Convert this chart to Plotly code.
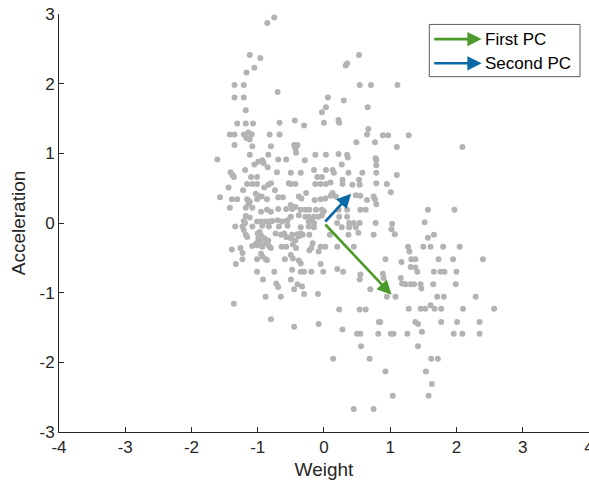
import plotly.graph_objects as go

# Standardized Weight (x) and Acceleration (y) values
weight_z = [
    -0.855, -0.75, -1.12, -0.96, -1.05, -1.17, -1.35, -1.21, -1.35, -1.21, -0.70, -1.18, 0.06, 0.03, -0.03,
    -1.31, -1.18, -1.07, -0.67, -0.44, -0.30, 0.0,
    0.53, 0.35, 0.33, 0.54, 0.71, 1.11, 0.30, 0.66, 0.22, 0.23, 0.67, 0.65, 0.89, 0.97, 1.28, 0.49, 0.77,
    1.10, 2.09, 0.22, 0.35, 0.36, 0.78,
    -1.42, -1.35, -1.21, -1.14, -1.09, -1.17, -1.12, -0.82, -0.67, -1.35, -1.08, -0.80, -1.61, -1.12, -0.84,
    -0.69, -0.57, -1.05, -0.99, -0.93, -0.91, -1.19, -0.85, -0.71, -1.41, -1.38, -1.36, -1.10, -1.01, -0.53,
    -1.16, -1.08, -1.01, -0.90, -0.84, -0.80, -1.44, -1.22, -0.74, -1.57, -1.39, -1.31, -1.16, -1.14, -1.12,
    -1.03, -0.99, -0.94, -1.01, -0.86, -0.69, -0.62, -1.42, -1.18, -1.08, -0.95, -0.86, -0.80, -0.69, -0.57,
    -1.18, -1.12, -1.21, -1.19, -1.01, -0.95, -0.88, -0.83, -0.78, -0.70, -0.63, -0.55, -1.34, -1.23, -1.08,
    -0.93, -0.83, -0.68, -0.55,
    -0.45, -0.40, -0.43, -0.42, -0.29, -0.13, 0.03, 0.27, 0.79, 0.79, -0.50, -0.35, -0.15, 0.03, 0.13, 0.15,
    0.37, 0.58, 0.79, -0.10, -0.03, -0.43, -0.50, -0.13, -0.05, 0.03, 0.10, 0.28, 0.28, 0.43, 0.53, 0.54,
    0.79, -0.27, 0.13, 0.10, -0.38, -0.34, -0.14, -0.05, 0.02, 0.18, 0.48, 0.55, 0.65, 0.77, -0.50, -0.43,
    -0.48, -0.35, -0.28, -0.22, -0.12, -0.03, 0.0, 0.22, 0.35, 0.55, 0.63, -0.50, -0.38, -0.28, -0.23, -0.15,
    -0.08, -0.03, -0.23, -0.19, -0.15, 0.23, 0.35, 0.20, 0.38, 0.45, 0.54, 0.78, -0.35, -0.23, -0.15, 0.27,
    0.38, 0.48,
    0.95, 1.01, 0.75, 0.79, 1.10,
    -1.21, -1.18, -1.16, -1.0, -0.97, -0.95, -0.99, -0.97, -1.02, -0.90, -0.88, -0.84, -0.73, -0.65, -0.60,
    -0.57, -1.39, -1.26, -1.23, -1.23, -1.33, -1.08, -1.01, -0.93, -0.83, -0.80, -0.95, -0.93, -1.01, -0.88,
    -0.86, -0.64, -0.57, -0.59, -1.01, -0.75, -0.92, -0.72, -0.69, -0.88, -0.65, -1.36, -0.80,
    -0.48, -0.40, -0.35, -0.32, -0.38, -0.22, 0.09, 0.37, 0.52, 0.75, -0.50, -0.43, -0.47, -0.42, -0.17,
    -0.19, -0.22, -0.05, 0.02, -0.08, 0.20, 0.45, -0.50, -0.47, -0.38, -0.35, -0.05, -0.48, -0.35, -0.30,
    -0.19, -0.01, 0.20, 0.29, 0.55, 0.54, -0.50, -0.40, -0.33, -0.45, -0.30, -0.09, 0.70, 0.23, 0.54, 0.63,
    -0.45, -0.08, 0.28, 0.50, 0.55,
    1.57, 1.97, 1.52, 1.03, 1.02, 1.07, 1.57, 1.66, 1.27, 1.29, 1.50, 1.61, 1.80, 2.05, 0.93, 1.17, 1.32,
    1.38, 1.31, 1.38, 1.41, 1.73, 1.95, 2.40, 1.66, 1.76, 1.82, 2.0, 0.89, 0.90, 1.16, 1.18, 1.23, 1.31,
    1.36, 1.46, 1.47, 1.65, 1.99, 0.95, 1.08, 1.71, 1.81, 2.29, 1.28, 1.46, 1.53, 1.61, 1.67, 1.77, 2.10,
    2.57, 0.83, 0.85, 1.38, 1.42, 1.77, 2.01, 2.35, 0.82, 1.01, 1.05, 1.26, 1.48, 1.96, 2.09, 2.35, 0.56,
    1.42, 0.14, 0.69, 1.62, 1.72, 0.93, 1.54, 1.63, 1.04, 1.58, 0.45, 0.75,
]
accel_z = [
    2.87, 2.95, 2.41, 2.37, 2.23, 2.16, 1.98, 1.98, 1.80, 1.80, 1.88, 1.62, 1.80, 1.66, 1.59,
    1.43, 1.43, 1.43, 1.44, 1.47, 1.40, 1.44,
    2.41, 2.29, 2.26, 1.98, 1.98, 1.98, 1.76, 1.66, 1.48, 1.44, 1.35, 1.27, 1.26, 1.26, 1.26, 1.16, 1.16,
    1.09, 1.09, 0.99, 0.98, 0.94, 0.93,
    1.27, 1.27, 1.27, 1.30, 1.27, 1.22, 1.20, 1.27, 1.27, 1.12, 1.10, 1.10, 0.91, 0.98, 0.98,
    0.91, 0.91, 0.84, 0.88, 0.90, 0.86, 0.76, 0.80, 0.73, 0.73, 0.69, 0.66, 0.66, 0.66, 0.57,
    0.56, 0.56, 0.56, 0.51, 0.55, 0.57, 0.51, 0.47, 0.47, 0.37, 0.34, 0.34, 0.34, 0.28, 0.31,
    0.42, 0.39, 0.38, 0.34, 0.34, 0.37, 0.37, 0.22, 0.22, 0.22, 0.16, 0.19, 0.16, 0.20, 0.20,
    0.10, 0.08, 0.03, 0.0, 0.02, 0.02, 0.02, 0.02, 0.03, 0.04, 0.02, 0.04, -0.05, -0.05, -0.05,
    -0.04, -0.05, -0.05, -0.04,
    1.12, 1.12, 1.07, 1.01, 0.90, 0.98, 0.98, 0.84, 0.90, 0.83, 0.72, 0.72, 0.76, 0.76, 0.76, 0.72,
    0.72, 0.72, 0.72, 0.66, 0.66, 0.56, 0.56, 0.56, 0.56, 0.56, 0.58, 0.62, 0.56, 0.55, 0.62, 0.55,
    0.57, 0.43, 0.43, 0.39, 0.38, 0.35, 0.33, 0.34, 0.35, 0.38, 0.40, 0.39, 0.33, 0.34, 0.26, 0.23,
    0.20, 0.19, 0.19, 0.19, 0.19, 0.19, 0.17, 0.19, 0.19, 0.19, 0.19, 0.09, 0.11, 0.09, 0.09, 0.09,
    0.09, 0.11, 0.02, 0.04, 0.0, 0.09, 0.09, 0.0, 0.0, 0.0, 0.0, 0.0, -0.06, -0.05, -0.06, -0.06,
    -0.06, -0.06,
    0.56, 0.44, 0.38, 0.27, 0.69,
    -0.10, -0.17, -0.20, -0.15, -0.13, -0.18, -0.22, -0.27, -0.29, -0.22, -0.29, -0.25, -0.15, -0.17, -0.15,
    -0.20, -0.38, -0.36, -0.43, -0.52, -0.59, -0.33, -0.32, -0.34, -0.33, -0.36, -0.44, -0.48, -0.52, -0.52,
    -0.53, -0.34, -0.34, -0.52, -0.70, -0.70, -0.81, -0.87, -0.92, -1.06, -1.06, -1.16, -1.38,
    -0.17, -0.16, -0.15, -0.17, -0.19, -0.17, -0.17, -0.17, -0.14, -0.17, -0.22, -0.25, -0.31, -0.36, -0.29,
    -0.36, -0.39, -0.34, -0.34, -0.41, -0.34, -0.34, -0.46, -0.51, -0.54, -0.58, -0.59, -0.67, -0.70, -0.70,
    -0.70, -0.70, -0.66, -0.70, -0.74, -0.81, -0.81, -0.88, -0.91, -0.95, -1.02, -1.02, -0.95, -1.24, -1.24, -1.24,
    -1.49, -1.45, -1.53, -1.59, -1.59,
    0.19, 0.19, 0.01, -0.01, -0.09, -0.16, -0.21, -0.17, -0.34, -0.41, -0.34, -0.34, -0.34, -0.34, -0.52, -0.56, -0.52,
    -0.52, -0.63, -0.64, -0.70, -0.52, -0.52, -0.52, -0.70, -0.70, -0.70, -0.70, -0.73, -0.79, -0.79, -0.87, -0.88, -0.88,
    -0.88, -0.88, -0.94, -0.88, -0.88, -1.06, -1.06, -1.06, -1.06, -1.06, -1.23, -1.23, -1.23, -1.18, -1.23, -1.23, -1.23,
    -1.23, -1.42, -1.42, -1.42, -1.45, -1.42, -1.42, -1.42, -1.59, -1.59, -1.59, -1.59, -1.56, -1.59, -1.59, -1.59, -1.77,
    -1.77, -1.95, -1.95, -1.95, -1.95, -2.13, -2.13, -2.31, -2.48, -2.48, -2.67, -2.67,
]

# Principal component arrows (end points, drawn from the origin)
pc_names = ["First PC", "Second PC"]
pc_x = [1.02, 0.41]
pc_y = [-1.03, 0.42]
pc_colors = ["#4c9a2a", "#0a6aa6"]

x_ticks = [-4, -3, -2, -1, 0, 1, 2, 3, 4]
y_ticks = [-3, -2, -1, 0, 1, 2, 3]

FONT = "Liberation Sans, Arial, Helvetica, sans-serif"
AX = "#262626"

fig = go.Figure()
fig.add_trace(go.Scatter(
    x=weight_z, y=accel_z, mode="markers",
    marker=dict(color="#b3b3b3", size=6, line=dict(width=0)),
    showlegend=False, hoverinfo="skip",
))

for name, ex, ey, col in zip(pc_names, pc_x, pc_y, pc_colors):
    fig.add_annotation(
        x=ex, y=ey, ax=0, ay=0, xref="x", yref="y", axref="x", ayref="y",
        text="", showarrow=True, arrowhead=2, arrowsize=1.1, arrowwidth=2.6,
        arrowcolor=col, standoff=0,
    )

# Legend box drawn in paper coordinates
fig.add_shape(type="rect", xref="paper", yref="paper",
              x0=0.6987, x1=0.983, y0=0.850, y1=0.975,
              line=dict(color="#333333", width=0.8), fillcolor="white", layer="above")
leg_y = [0.940, 0.882]
for name, col, ly in zip(pc_names, pc_colors, leg_y):
    fig.add_annotation(
        x=0.7975, y=ly, xref="paper", yref="paper", ax=-49, ay=0,
        text="", showarrow=True, arrowhead=2, arrowsize=1.1, arrowwidth=2.6,
        arrowcolor=col, standoff=0,
    )
    fig.add_annotation(
        x=0.800, y=ly, xref="paper", yref="paper", xanchor="left", yanchor="middle",
        text=name, showarrow=False, font=dict(family=FONT, size=17, color="#000000"),
    )

axis_common = dict(
    showgrid=False, zeroline=False, showline=True, linecolor=AX, linewidth=1,
    ticks="inside", ticklen=5, tickcolor=AX, tickwidth=1, mirror=False,
    tickfont=dict(family=FONT, size=17, color=AX),
    title_font=dict(family=FONT, size=19, color=AX),
    ticklabeloverflow="allow", automargin=False,
)
fig.update_xaxes(range=[-4, 4.002], tickvals=x_ticks, ticktext=[str(v) for v in x_ticks],
                 title_text="Weight", title_standoff=6, **axis_common)
fig.update_yaxes(range=[-3, 3], tickvals=y_ticks, ticktext=[str(v) for v in y_ticks],
                 title_text="Acceleration", title_standoff=8, **axis_common)

fig.update_layout(
    width=589, height=491,
    margin=dict(l=59, r=0, t=14, b=59),
    plot_bgcolor="white", paper_bgcolor="white",
    font=dict(family=FONT),
    showlegend=False,
)

fig.write_html("out.html")
